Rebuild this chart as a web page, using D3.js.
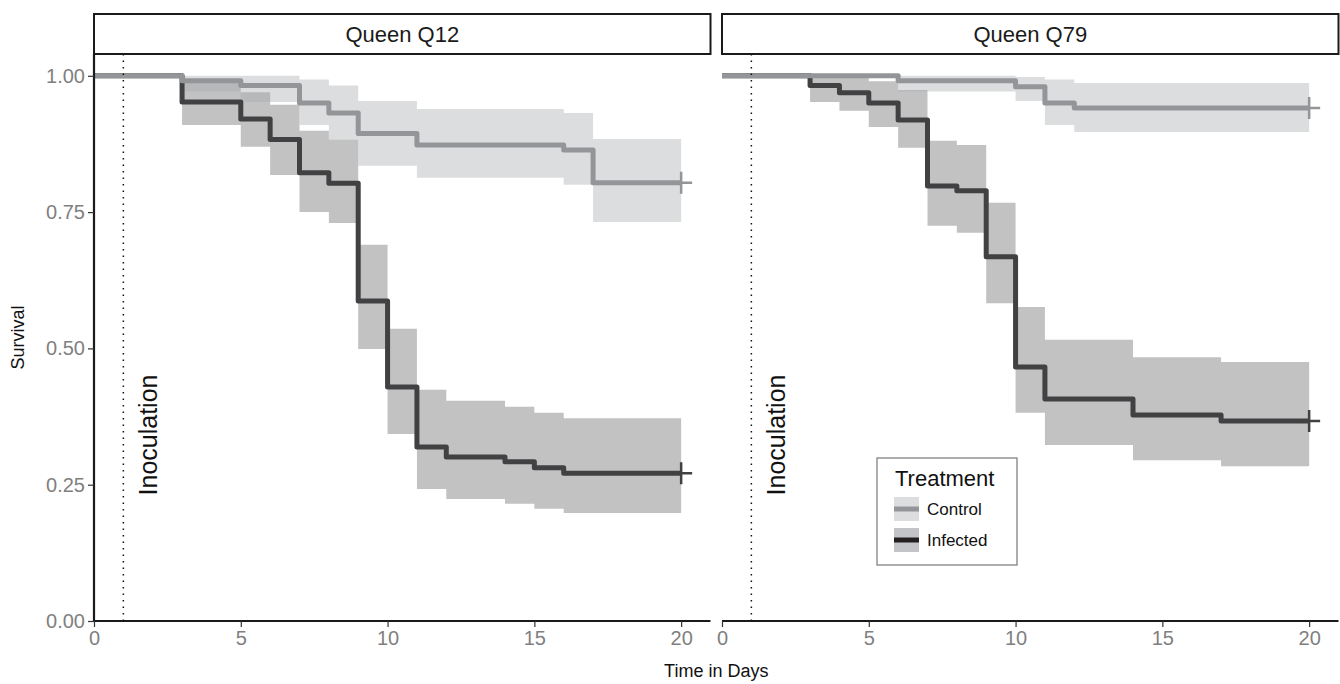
<!DOCTYPE html>
<html>
<head>
<meta charset="utf-8">
<script src="https://cdn.jsdelivr.net/npm/d3@7"></script>
<style>
  body { margin: 0; background: #fff; }
  svg text { font-family: "Liberation Sans", Arial, Helvetica, sans-serif; }
</style>
</head>
<body>
<svg class="chart"></svg>
<script>
// survival curves
let panelTitles = ['Queen Q12', 'Queen Q79']
let treatments = ['Control', 'Infected']
let xTicks = [0, 5, 10, 15, 20]
let yTicks = [0, 0.25, 0.5, 0.75, 1]
let inoculationDay = 1
let lastDay = 20

let q12ControlTime = [0, 3, 5, 7, 8, 9, 11, 16, 17, 20]
let q12ControlSurv = [1, 0.991, 0.982, 0.950, 0.932, 0.894, 0.873, 0.864, 0.804, 0.804]
let q12ControlLow  = [1, 0.971, 0.952, 0.910, 0.883, 0.835, 0.813, 0.800, 0.732, 0.732]
let q12ControlHigh = [1, 1.000, 1.000, 0.993, 0.982, 0.954, 0.939, 0.932, 0.884, 0.884]

let q12InfTime = [0, 3, 5, 6, 7, 8, 9, 10, 11, 12, 14, 15, 16, 20]
let q12InfSurv = [1, 0.952, 0.921, 0.883, 0.822, 0.803, 0.587, 0.429, 0.319, 0.301, 0.292, 0.281, 0.271, 0.271]
let q12InfLow  = [1, 0.910, 0.870, 0.818, 0.750, 0.730, 0.499, 0.343, 0.242, 0.224, 0.215, 0.206, 0.198, 0.198]
let q12InfHigh = [1, 0.990, 0.970, 0.947, 0.899, 0.883, 0.690, 0.536, 0.424, 0.404, 0.393, 0.382, 0.372, 0.372]

let q79ControlTime = [0, 6, 10, 11, 12, 20]
let q79ControlSurv = [1, 0.991, 0.980, 0.950, 0.941, 0.941]
let q79ControlLow  = [1, 0.971, 0.954, 0.910, 0.897, 0.897]
let q79ControlHigh = [1, 1.000, 0.998, 0.993, 0.987, 0.987]

let q79InfTime = [0, 3, 4, 5, 6, 7, 8, 9, 10, 11, 14, 17, 20]
let q79InfSurv = [1, 0.982, 0.969, 0.950, 0.919, 0.798, 0.789, 0.668, 0.466, 0.407, 0.378, 0.367, 0.367]
let q79InfLow  = [1, 0.952, 0.936, 0.906, 0.868, 0.725, 0.712, 0.583, 0.382, 0.323, 0.295, 0.284, 0.284]
let q79InfHigh = [1, 1.000, 0.998, 0.990, 0.974, 0.881, 0.873, 0.767, 0.576, 0.516, 0.484, 0.475, 0.475]

let lineColor = { Control: '#939598', Infected: '#414042' }
let bandColor = { Control: '#dcdddf', Infected: '#c3c4c7' }

function series(t, s, lo, hi) {
  return t.map((d, i) => ({ t: d, s: s[i], lo: lo[i], hi: hi[i] }))
}

let panels = [
  { title: panelTitles[0], Control: series(q12ControlTime, q12ControlSurv, q12ControlLow, q12ControlHigh),
    Infected: series(q12InfTime, q12InfSurv, q12InfLow, q12InfHigh) },
  { title: panelTitles[1], Control: series(q79ControlTime, q79ControlSurv, q79ControlLow, q79ControlHigh),
    Infected: series(q79InfTime, q79InfSurv, q79InfLow, q79InfHigh) }
]

//basic graph info
let svg_width = 1340
let svg_height = 684
let panel_left = [94, 722]
let panel_width = 616.5
let panel_top = 54
let panel_height = 567
let strip_top = 14

let svg = d3.select('.chart')
  .attr('width', svg_width)
  .attr('height', svg_height)

let scaleX = d3.scaleLinear().domain([0, 21]).range([0, panel_width])
let scaleY = d3.scaleLinear().domain([0, 1.04]).range([panel_height, 0])

let band = d3.area()
  .curve(d3.curveStepAfter)
  .x(d => scaleX(d.t))
  .y0(d => scaleY(d.lo))
  .y1(d => scaleY(d.hi))

let line = d3.line()
  .curve(d3.curveStepAfter)
  .x(d => scaleX(d.t))
  .y(d => scaleY(d.s))

panels.forEach((p, pi) => {
  let g = svg.append('g')
    .attr('transform', translate(panel_left[pi], panel_top))

  // strip
  svg.append('rect')
    .attr('x', panel_left[pi]).attr('y', strip_top)
    .attr('width', panel_width).attr('height', panel_top - strip_top)
    .attr('fill', '#fff').attr('stroke', '#1a1a1a').attr('stroke-width', 2)
  svg.append('text')
    .attr('x', panel_left[pi] + panel_width / 2)
    .attr('y', (strip_top + panel_top) / 2 + 8)
    .attr('text-anchor', 'middle')
    .attr('font-size', 22)
    .attr('fill', '#1a1a1a')
    .text(p.title)

  // confidence bands (infected drawn first, control over it)
  treatments.slice().reverse().forEach(tr => {
    g.append('path')
      .datum(p[tr])
      .attr('d', band)
      .attr('fill', tr == 'Control' ? '#a7a9ac' : '#77787b')
      .attr('fill-opacity', tr == 'Control' ? 0.4 : 0.45)
  })

  treatments.slice().reverse().forEach(tr => {
    g.append('path')
      .datum(p[tr])
      .attr('d', line)
      .attr('fill', 'none')
      .attr('stroke', lineColor[tr])
      .attr('stroke-width', 5)
      .attr('stroke-linejoin', 'round')

    // censor mark
    let last = p[tr][p[tr].length - 1]
    let cx = scaleX(lastDay), cy = scaleY(last.s)
    g.append('path')
      .attr('d', `M${cx - 11},${cy}H${cx + 11}M${cx},${cy - 11}V${cy + 11}`)
      .attr('stroke', lineColor[tr])
      .attr('stroke-width', 2.5)
  })

  // inoculation marker
  g.append('line')
    .attr('x1', scaleX(inoculationDay)).attr('x2', scaleX(inoculationDay))
    .attr('y1', 0).attr('y2', panel_height)
    .attr('stroke', '#111').attr('stroke-width', 1.5)
    .attr('stroke-dasharray', '1.5,5')
  g.append('text')
    .attr('transform', translate(scaleX(inoculationDay) + 34, 381) + ' rotate(-90)')
    .attr('text-anchor', 'middle')
    .attr('font-size', 25)
    .attr('fill', '#111')
    .text('Inoculation')

  // x axis
  let axisX = d3.axisBottom(scaleX).tickValues(xTicks).tickSize(6).tickPadding(4)
  g.append('g')
    .attr('class', 'x-axis')
    .attr('transform', translate(0, panel_height))
    .call(axisX)
    .call(customAxis)

  if (pi == 0) {
    let axisY = d3.axisLeft(scaleY).tickValues(yTicks).tickSize(6).tickPadding(3)
      .tickFormat(d3.format('.2f'))
    g.append('g')
      .attr('class', 'y-axis')
      .call(axisY)
      .call(customAxis)
    g.select('.y-axis .domain').attr('d', `M0,0V${panel_height}`)
  }
  g.select('.x-axis .domain').attr('d', `M0,0H${panel_width}`)
})

// axis titles
svg.append('text')
  .attr('transform', translate(24, panel_top + panel_height / 2) + ' rotate(-90)')
  .attr('text-anchor', 'middle')
  .attr('font-size', 18)
  .attr('fill', '#111')
  .text('Survival')

svg.append('text')
  .attr('x', (panel_left[0] + panel_left[1] + panel_width) / 2)
  .attr('y', 677)
  .attr('text-anchor', 'middle')
  .attr('font-size', 18)
  .attr('fill', '#111')
  .text('Time in Days')

// legend
let legend = svg.append('g').attr('transform', translate(877, 458))
legend.append('rect')
  .attr('width', 140).attr('height', 107)
  .attr('fill', '#fff').attr('stroke', '#777').attr('stroke-width', 1.2)
legend.append('text')
  .attr('x', 18).attr('y', 28)
  .attr('font-size', 22).attr('fill', '#111')
  .text('Treatment')

treatments.forEach((tr, i) => {
  let ky = 39 + i * 31
  legend.append('rect')
    .attr('x', 17).attr('y', ky).attr('width', 25).attr('height', 24)
    .attr('fill', bandColor[tr])
  legend.append('line')
    .attr('x1', 17).attr('x2', 42).attr('y1', ky + 12).attr('y2', ky + 12)
    .attr('stroke', tr == 'Control' ? lineColor[tr] : '#231f20')
    .attr('stroke-width', 5)
  legend.append('text')
    .attr('x', 50).attr('y', ky + 18)
    .attr('font-size', 17).attr('fill', '#111')
    .text(tr)
})

function translate(x, y) {
  return 'translate(' + x + ',' + y + ')';
}

function customAxis(g) {
  g.select('.domain').attr('stroke', '#1a1a1a').attr('stroke-width', 2.2)
  g.selectAll('.tick line').attr('stroke', '#333').attr('stroke-width', 1.2)
  g.selectAll('.tick text')
    .attr('font-size', 20)
    .attr('fill', '#7f7f7f')
    .style('font-family', '"Liberation Sans", Arial, sans-serif')
}
</script>
</body>
</html>
